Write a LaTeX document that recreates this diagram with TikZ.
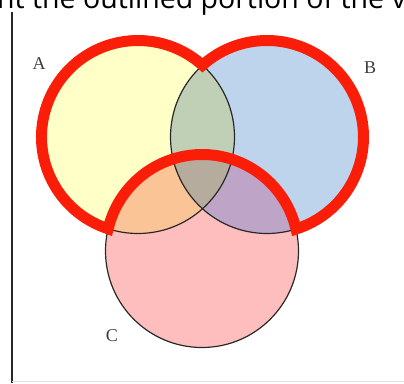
\documentclass[tikz,border=0pt]{standalone}
\usepackage{fontspec}
\newfontfamily\topfont{Open Sans}
\newfontfamily\labfont{Liberation Serif}
\definecolor{cA}{RGB}{255,255,200}
\definecolor{cB}{RGB}{190,212,236}
\definecolor{cC}{RGB}{255,190,190}
\definecolor{cAB}{RGB}{192,208,182}
\definecolor{cAC}{RGB}{250,196,150}
\definecolor{cBC}{RGB}{190,165,200}
\definecolor{cABC}{RGB}{182,172,158}
\definecolor{redline}{RGB}{250,30,8}
\definecolor{darkline}{RGB}{40,40,40}
\tikzset{
  thinline/.style={draw=darkline, line width=1.2pt},
  redrim/.style={draw=redline, line width=11pt, line join=miter},
  setlabel/.style={font=\labfont\fontsize{18}{20}\selectfont, text=darkline!90, inner sep=0pt},
}
\begin{document}
\begin{tikzpicture}[x=1pt,y=1pt]
\useasboundingbox (0,0) rectangle (404,383);
\clip (0,0) rectangle (404,383);
\def\R{96.5}
\coordinate (A) at (138,246);
\coordinate (B) at (267,246);
\coordinate (C) at (202,132);
% base fills
\fill[cA] (A) circle[radius=\R];
\fill[cB] (B) circle[radius=\R];
\fill[cC] (C) circle[radius=\R];
\begin{scope}
  \clip (B) circle[radius=\R];
  \fill[cBC] (C) circle[radius=\R];
\end{scope}
\begin{scope}
  \clip (A) circle[radius=\R];
  \fill[cAB] (B) circle[radius=\R];
  \fill[cAC] (C) circle[radius=\R];
  \clip (B) circle[radius=\R];
  \fill[cABC] (C) circle[radius=\R];
\end{scope}
% thin outlines
\draw[thinline] (A) circle[radius=\R];
\draw[thinline] (B) circle[radius=\R];
\draw[thinline] (C) circle[radius=\R];
% red outline of (A u B) \ C
\draw[redrim] ({138+\R*cos(251.95)},{246+\R*sin(251.95)})
  arc[start angle=251.95, end angle=48.06, radius=\R]
  arc[start angle=131.94, end angle=-72.5, radius=\R]
  arc[start angle=13.17, end angle=166.67, radius=\R] -- cycle;
% labels
\node[setlabel] (la) at (39,319) {A};
\node[setlabel] (lb) at (370,315) {B};
\node[setlabel] (lc) at (112,47) {C};
% frame lines
\coordinate (vt) at (12,371);
\coordinate (vb) at (12,0);
\draw[darkline, line width=2pt] (vt) -- (vb);
\coordinate (hl) at (12,2);
\coordinate (hr) at (404,2);
\draw[black!12, line width=1pt] (hl) -- (hr);
% cut-off heading
\node[anchor=base west, inner sep=0pt, font=\topfont\fontsize{28.5}{30}\selectfont] (head) at (-3,374.5) {nt the outlined portion of the v};
\end{tikzpicture}
\end{document}
